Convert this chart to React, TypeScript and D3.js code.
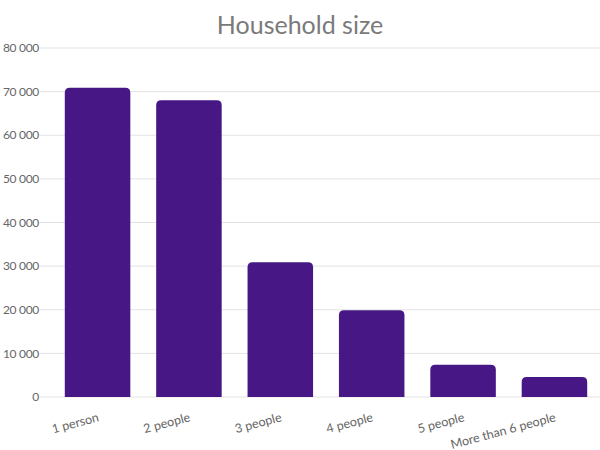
import React from "react";
import * as d3 from "d3";

const categories = ["1 person", "2 people", "3 people", "4 people", "5 people", "More than 6 people"];
const values = [70900, 68000, 30900, 19900, 7400, 4600];
const yTicks = [0, 10000, 20000, 30000, 40000, 50000, 60000, 70000, 80000];
const title = "Household size";

const W = 600;
const H = 450;
const FONT = "Lato, 'Open Sans', sans-serif";

function topRoundedRect(x: number, y: number, w: number, h: number, r: number) {
  const rr = Math.min(r, w / 2, h);
  return `M${x},${y + h}V${y + rr}Q${x},${y} ${x + rr},${y}H${x + w - rr}Q${x + w},${y} ${x + w},${y + rr}V${y + h}Z`;
}

export default function App() {
  const x = d3.scaleBand<string>().domain(categories).range([52, 600]).paddingInner(0.283).paddingOuter(0.14);
  const y = d3.scaleLinear().domain([0, 80000]).range([397, 48]);
  const fmt = (v: number) => d3.format(",")(v).replace(/,/g, " ");

  return (
    <svg width={W} height={H} style={{ position: "absolute", left: 0, top: 0, background: "#fff" }} fontFamily={FONT}>
      <text x={300} y={34} textAnchor="middle" fontSize={25} fill="#7a7a7a">{title}</text>
      {yTicks.map((t) => (
        <g key={t}>
          <line x1={40} x2={600} y1={y(t)} y2={y(t)} stroke="#e3e3e3" strokeWidth={1} />
          <text x={39} y={y(t)} dy="0.35em" textAnchor="end" fontSize={12} fill="#666" letterSpacing={-0.3}>{fmt(t)}</text>
        </g>
      ))}
      {categories.map((c, i) => {
        const bx = x(c)!;
        const bw = x.bandwidth();
        const top = y(values[i]);
        return (
          <path key={c} d={topRoundedRect(bx, top, bw, y(0) - top, 5)} fill="#471786" />
        );
      })}
      {categories.map((c) => {
        const cx = x(c)! + x.bandwidth() / 2 + 2;
        return (
          <text key={c} transform={`translate(${cx},${421}) rotate(-15)`} textAnchor="end" fontSize={12.5} fill="#666">{c}</text>
        );
      })}
    </svg>
  );
}
